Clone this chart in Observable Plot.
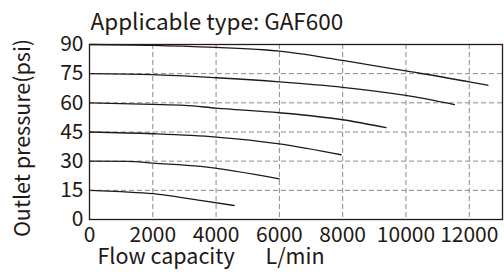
<!DOCTYPE html>
<html>
<head>
<meta charset="utf-8">
<script src="https://cdn.jsdelivr.net/npm/d3@7"></script>
<script src="https://cdn.jsdelivr.net/npm/@observablehq/plot@0.6"></script>
<style>
  html, body { margin: 0; padding: 0; background: #fff; }
  svg { display: block; }
</style>
</head>
<body>
<div id="chart"></div>
<script>
// Tick labels
const xTicks = [0, 2000, 4000, 6000, 8000, 10000, 12000];
const yTicks = [0, 15, 30, 45, 60, 75, 90];

// Curves: flow (L/min) and outlet pressure (psi)
const flow90 = [0, 2000, 4000, 5500, 6000, 8000, 10000, 12000, 12590];
const pres90 = [90, 89.6, 88.5, 87.3, 86.6, 81.8, 76.4, 70.8, 69.0];

const flow75 = [0, 2000, 4000, 6000, 8000, 10000, 11530];
const pres75 = [75, 74.5, 72.9, 70.8, 68.0, 63.8, 59.1];

const flow60 = [0, 2000, 3000, 4000, 6000, 8000, 9370];
const pres60 = [60, 59.2, 58.7, 57.3, 54.9, 51.3, 47.2];

const flow45 = [0, 2000, 4000, 6000, 7950];
const pres45 = [45, 44.1, 42.4, 38.9, 33.3];

const flow30 = [0, 1200, 2000, 3500, 6000];
const pres30 = [30, 29.9, 29.0, 27.3, 20.9];

const flow15 = [0, 1000, 2000, 2450, 3500, 4570];
const pres15 = [15, 14.3, 13.3, 12.4, 9.8, 7.2];

const curves = [
  [flow90, pres90], [flow75, pres75], [flow60, pres60],
  [flow45, pres45], [flow30, pres30], [flow15, pres15]
];

const ink = "#231815";
const font = "'Noto Sans CJK JP', 'Noto Sans', sans-serif";
const tickFs = 21;
const labelFs = 21.5;

const marks = [
  Plot.gridX(xTicks, {stroke: "#8a8a8a", strokeOpacity: 1, strokeWidth: 1, strokeDasharray: "5,3"}),
  Plot.gridY(yTicks, {stroke: "#8a8a8a", strokeOpacity: 1, strokeWidth: 1, strokeDasharray: "5,3"}),
  ...curves.map(([f, p]) => Plot.line(f.map((v, i) => ({flow: v, p: p[i]})), {
    x: "flow", y: "p", stroke: ink, strokeWidth: 1.3, curve: "monotone-x"
  })),
  Plot.frame({stroke: ink, strokeWidth: 1.3}),
  Plot.axisX(xTicks, {tickSize: 0, tickPadding: 8, fontSize: tickFs, fill: ink, label: null, tickFormat: d => String(d)}),
  Plot.axisY(yTicks, {tickSize: 0, tickPadding: 6, fontSize: tickFs, fill: ink, label: null, tickFormat: d => String(d)}),
  Plot.text(["Applicable type: GAF600"], {frameAnchor: "top-left", textAnchor: "start", lineAnchor: "middle", dx: 1, dy: -22, fontSize: 22.5, fill: ink}),
  Plot.text(["Outlet pressure(psi)"], {frameAnchor: "left", textAnchor: "middle", lineAnchor: "middle", rotate: -90, dx: -66, dy: 6, fontSize: labelFs, fill: ink}),
  Plot.text(["Flow capacity"], {frameAnchor: "bottom-left", textAnchor: "start", lineAnchor: "middle", dx: 8, dy: 38, fontSize: labelFs, fill: ink}),
  Plot.text(["L/min"], {frameAnchor: "bottom-left", textAnchor: "start", lineAnchor: "middle", dx: 176, dy: 38, fontSize: labelFs, fill: ink})
];

const chart = Plot.plot({
  width: 504,
  height: 277,
  marginLeft: 89,
  marginRight: 2,
  marginTop: 44,
  marginBottom: 58,
  style: {fontFamily: font, background: "#fff", color: ink},
  x: {domain: [0, 13050], axis: null},
  y: {domain: [0, 90], axis: null},
  marks
});
document.getElementById("chart").appendChild(chart);
</script>
</body>
</html>
